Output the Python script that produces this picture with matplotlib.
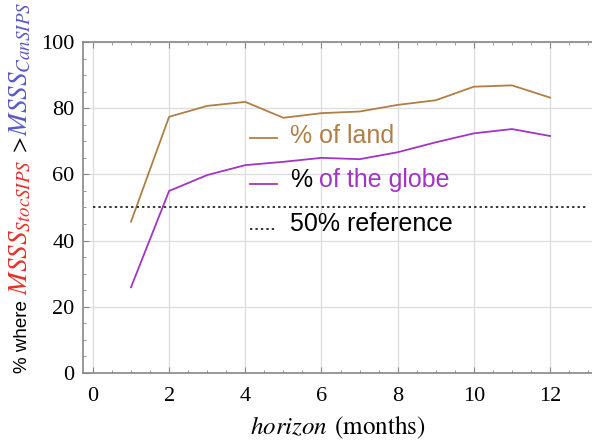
import matplotlib
matplotlib.use("Agg")
import matplotlib.pyplot as plt
from matplotlib.ticker import MultipleLocator
from matplotlib import font_manager

horizon = [1, 2, 3, 4, 5, 6, 7, 8, 9, 10, 11, 12]
pct_land = [45.7, 77.4, 80.7, 81.9, 77.1, 78.5, 79.0, 81.0, 82.4, 86.5, 86.9, 83.2]
pct_globe = [25.9, 55.0, 59.8, 62.8, 63.8, 65.0, 64.6, 66.7, 69.7, 72.4, 73.7, 71.6]
ref_value = 50
ref_span = [0, 13]
x_ticks = [0, 2, 4, 6, 8, 10, 12]
y_ticks = [0, 20, 40, 60, 80, 100]

c_land = "#B07F45"
c_globe = "#A235C4"
c_red = "#E8302A"
c_blue = "#5A5AC8"
c_spine = "#888888"

plt.rcParams["mathtext.fontset"] = "stix"

# narrow sans for the y label, if available
narrow_family = "Liberation Sans"
narrow_size = 13.5
try:
    fp = font_manager.FontProperties(family="Liberation Sans Narrow")
    font_manager.findfont(fp, fallback_to_default=False)
    narrow_family = "Liberation Sans Narrow"
    narrow_size = 16
except Exception:
    pass

fig = plt.figure(figsize=(5.92, 4.4), dpi=100)
ax = fig.add_axes([83/592, 67/440, 509/592, 331/440])

ax.plot(horizon, pct_land, color=c_land, lw=1.3)
ax.plot(horizon, pct_globe, color=c_globe, lw=1.3)
ax.hlines(ref_value, ref_span[0], ref_span[1], colors="#333333", linestyles=(0, (1.2, 1.6)), lw=1.4)

ax.set_xlim(-0.26, 13.1)
ax.set_ylim(0, 100)
ax.set_xticks(x_ticks)
ax.set_yticks(y_ticks)
ax.xaxis.set_minor_locator(MultipleLocator(0.5))
ax.yaxis.set_minor_locator(MultipleLocator(5))
ax.grid(True, which="major", color="#dddddd", lw=0.9)
ax.set_axisbelow(True)
ax.tick_params(which="both", direction="in", top=True, right=False, color=c_spine)
ax.tick_params(which="major", length=4, labelsize=16)
ax.tick_params(axis="x", which="major", pad=10)
ax.tick_params(axis="y", which="major", pad=6)
ax.tick_params(which="minor", length=2)
for lab in ax.get_xticklabels() + ax.get_yticklabels():
    lab.set_family("Liberation Serif")
for s in ["left", "bottom", "top"]:
    ax.spines[s].set_color(c_spine)
    ax.spines[s].set_linewidth(1.2)
ax.spines["right"].set_visible(False)

ax.set_xlabel(r"$\mathit{horizon}$ $\mathrm{(months)}$", fontsize=18, labelpad=6)

# legend drawn manually
ax.plot([0.328, 0.381], [0.710, 0.710], transform=ax.transAxes, color=c_land, lw=1.3)
ax.plot([0.328, 0.381], [0.571, 0.571], transform=ax.transAxes, color=c_globe, lw=1.3)
ax.plot([0.328, 0.381], [0.435, 0.435], transform=ax.transAxes, color="#333333", lw=1.4, ls=(0, (1.2, 1.6)))
lfont = dict(family="Liberation Sans", fontsize=18, va="baseline", ha="left")
ax.text(0.407, 0.695, "% of land", color=c_land, transform=ax.transAxes, **lfont)
t_pct = ax.text(0.407, 0.562, "%", color="black", transform=ax.transAxes, **lfont)
ax.annotate(" of the globe", xy=(1, 0), xycoords=t_pct, color=c_globe,
            family="Liberation Sans", fontsize=18, va="bottom", ha="left")
ax.text(0.407, 0.429, "50% reference", color="black", transform=ax.transAxes, **lfont)

# multi-coloured y label
pieces = [
    ("% where ", "black", dict(family=narrow_family, fontsize=narrow_size)),
    (r"$MSSS_{StocSIPS}$", c_red, dict(fontsize=19.5)),
    (r"$\,>\,$", "black", dict(fontsize=17)),
    (r"$MSSS_{CanSIPS}$", c_blue, dict(fontsize=19.5)),
]
fig.canvas.draw()
renderer = fig.canvas.get_renderer()
x_base = 27 / 592
y_cur = 67 / 440
for txt, col, kw in pieces:
    t = fig.text(x_base, y_cur, txt, color=col, rotation=90, rotation_mode="anchor",
                 ha="left", va="baseline", **kw)
    bb = t.get_window_extent(renderer)
    y_cur += bb.height / fig.bbox.height

fig.savefig("out.png", dpi=100)
